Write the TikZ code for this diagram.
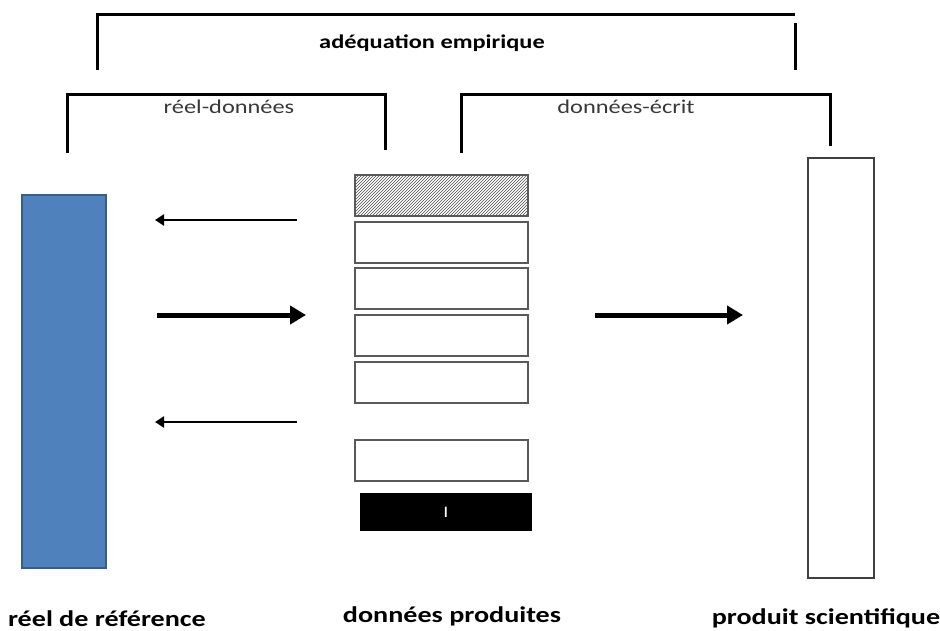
\documentclass[tikz,border=0pt]{standalone}
\usepackage{fontspec}
\setmainfont{Carlito}[FakeStretch=1.25]
\usetikzlibrary{arrows.meta,patterns}
\definecolor{officeblue}{HTML}{4F81BD}
\definecolor{officeblueborder}{HTML}{385D8A}
\tikzset{
  bracket/.style={line width=3pt},
  box/.style={draw=black!65, line width=1.3pt, fill=white, inner sep=0pt},
  thinarrow/.style={line width=2.5pt, -{Triangle[length=9pt,width=11pt]}},
  thickarrow/.style={line width=5pt, -{Triangle[length=16pt,width=18pt]}},
  lbl/.style={font=\fontsize{22.5}{26}\selectfont\bfseries, anchor=base, inner sep=0pt},
  toplbl/.style={font=\fontsize{19.5}{23}\selectfont\bfseries, anchor=base, inner sep=0pt},
  sublbl/.style={font=\fontsize{19.5}{23}\selectfont, text=black!78, anchor=base, inner sep=0pt},
}
\begin{document}
\begin{tikzpicture}[x=1pt,y=-1pt]
\useasboundingbox (0,0) rectangle (940,630);
% top bracket
\coordinate (t1) at (97,70);
\coordinate (t2) at (97,14);
\coordinate (t3) at (795,14);
\coordinate (t4) at (795,23);
\coordinate (t5) at (795,70);
\draw[bracket] (t1) -- (t2) -- (t3);
\draw[bracket] (t4) -- (t5);
\node[toplbl] (emp) at (432,48) {adéquation empirique};
% left sub-bracket
\coordinate (a1) at (67,153);
\coordinate (a2) at (67,94);
\coordinate (a3) at (385,94);
\coordinate (a4) at (385,150);
\draw[bracket] (a1) -- (a2) -- (a3) -- (a4);
\node[sublbl] (rd) at (229,113) {réel-données};
% right sub-bracket
\coordinate (b1) at (461,153);
\coordinate (b2) at (461,94);
\coordinate (b3) at (830,94);
\coordinate (b4) at (830,146);
\draw[bracket] (b1) -- (b2) -- (b3) -- (b4);
\node[sublbl] (de) at (626,113) {données-écrit};
% blue column
\node[draw=officeblueborder, line width=1.5pt, fill=officeblue, minimum width=84pt, minimum height=373pt, inner sep=0pt] (reel) at (64,381.5) {};
% right white column
\node[box, draw=black!75, line width=1.2pt, minimum width=66pt, minimum height=420pt] (prod) at (841,368) {};
% middle stack
\node[box, pattern=north east lines, pattern color=black!70, minimum width=173pt, minimum height=41pt] (h) at (441.5,195.5) {};
\node[box, minimum width=173pt, minimum height=41pt] (d1) at (441.5,242.5) {};
\node[box, minimum width=173pt, minimum height=41pt] (d2) at (441.5,288.5) {};
\node[box, minimum width=173pt, minimum height=41pt] (d3) at (441.5,335.5) {};
\node[box, minimum width=173pt, minimum height=41pt] (d4) at (441.5,382.5) {};
\node[box, minimum width=173pt, minimum height=41pt] (d5) at (441.5,460.5) {};
\node[fill=black, minimum width=172pt, minimum height=38pt, inner sep=0pt, text=white, font=\fontsize{16}{18}\selectfont] (blk) at (446,512) {I};
% arrows
\coordinate (l1s) at (297,220);
\coordinate (l1e) at (155,220);
\coordinate (l2s) at (297,422);
\coordinate (l2e) at (155,422);
\coordinate (m1s) at (157,315);
\coordinate (m1e) at (306,315);
\coordinate (r1s) at (595,315);
\coordinate (r1e) at (743,315);
\draw[thinarrow] (l1s) -- (l1e);
\draw[thinarrow] (l2s) -- (l2e);
\draw[thickarrow] (m1s) -- (m1e);
\draw[thickarrow] (r1s) -- (r1e);
% bottom labels
\node[lbl] (lab1) at (107,626) {réel de référence};
\node[lbl] (lab2) at (452,622) {données produites};
\node[lbl] (lab3) at (826,624) {produit scientifique};
\end{tikzpicture}
\end{document}
